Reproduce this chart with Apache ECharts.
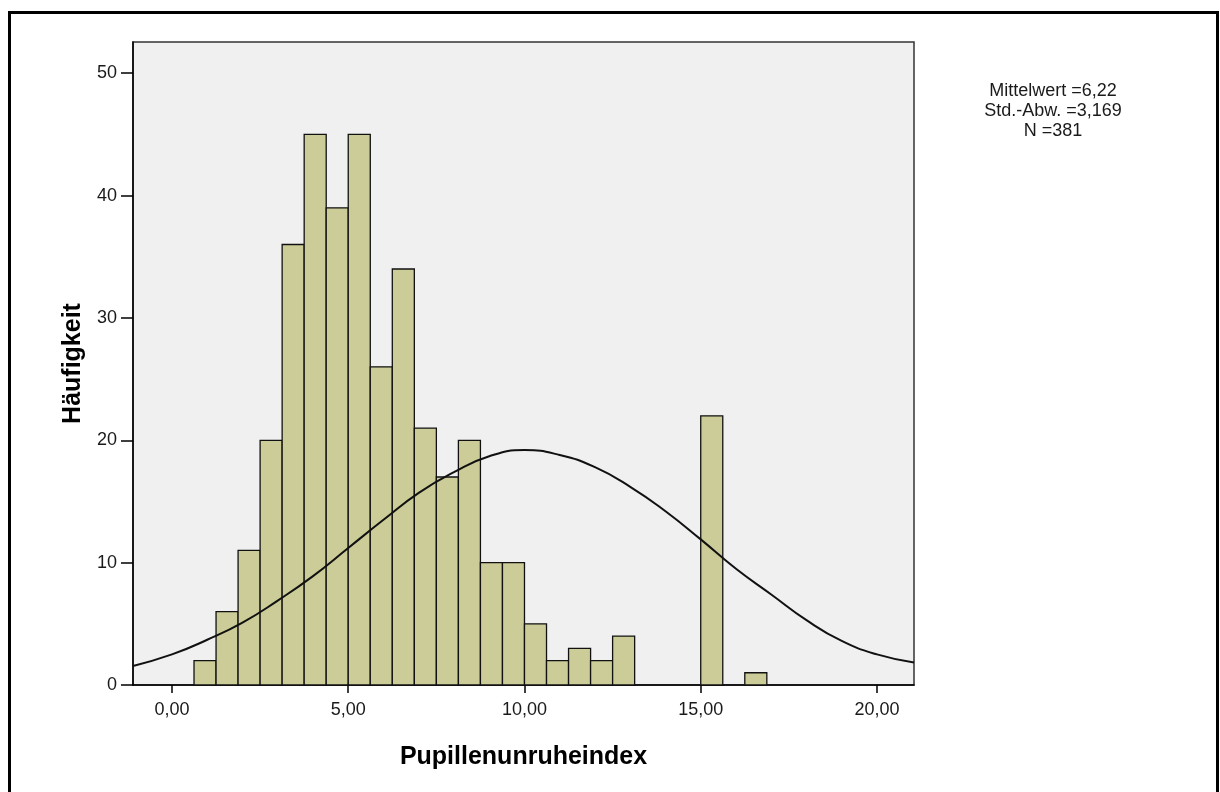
<!DOCTYPE html>
<html>
<head>
<meta charset="utf-8">
<script src="https://cdn.jsdelivr.net/npm/echarts@6/dist/echarts.min.js"></script>
<style>
  html, body { margin: 0; padding: 0; background: #ffffff; }
  #chart { width: 1220px; height: 792px; }
</style>
</head>
<body>
<div id="chart"></div>
<script>
// Histogram bins of the pupil unrest index (lower bin edge, count per bin)
const binWidth = 0.625;
const binStarts = [0.625, 1.25, 1.875, 2.5, 3.125, 3.75, 4.375, 5.0, 5.625, 6.25, 6.875,
                   7.5, 8.125, 8.75, 9.375, 10.0, 10.625, 11.25, 11.875, 12.5, 15.0, 16.25];
const binCounts = [2, 6, 11, 20, 36, 45, 39, 45, 26, 34, 21,
                   17, 20, 10, 10, 5, 2, 3, 2, 4, 22, 1];

// Normal curve overlay, sampled points (x, frequency)
const curveX = [-1.106, 0, 1, 2, 3, 4, 5, 6, 7, 8, 9, 10, 11,
                12, 13, 14, 15, 16, 17, 18, 19, 20, 21.05];
const curveY = [1.56, 2.5, 3.7, 5.1, 6.9, 8.9, 11.2, 13.5, 15.7, 17.4, 18.7, 19.2, 18.8,
                17.8, 16.2, 14.2, 11.9, 9.5, 7.4, 5.3, 3.6, 2.5, 1.84];

// Axis tick values
const xTicks = [0, 5, 10, 15, 20];
const yTicks = [0, 10, 20, 30, 40, 50];

// Summary statistics box
const statLines = ['Mittelwert =6,22', 'Std.-Abw. =3,169', 'N =381'];

const FONT = '"Liberation Sans", Arial, sans-serif';

const chart = echarts.init(document.getElementById('chart'), null, { renderer: 'canvas' });

const histData = binStarts.map((s, i) => [s, binCounts[i]]);
const curveData = curveX.map((x, i) => [x, curveY[i]]);

chart.setOption({
  animation: false,
  backgroundColor: '#ffffff',
  grid: {
    left: 133, top: 42, right: 306, bottom: 107,
    show: true,
    backgroundColor: '#f0f0f0',
    borderColor: '#333333',
    borderWidth: 1.5
  },
  xAxis: {
    type: 'value',
    min: -1.106,
    max: 21.05,
    name: 'Pupillenunruheindex',
    nameLocation: 'middle',
    nameGap: 60,
    nameTextStyle: { fontFamily: FONT, fontWeight: 'bold', fontSize: 25, color: '#000' },
    axisLine: { show: true, onZero: false, lineStyle: { color: '#000', width: 1.5 } },
    axisTick: { show: true, customValues: xTicks, length: 8, lineStyle: { color: '#000', width: 1.5 } },
    axisLabel: {
      customValues: xTicks,
      formatter: v => v.toFixed(2).replace('.', ','),
      fontFamily: FONT, fontSize: 18, color: '#1a1a1a', margin: 16
    },
    splitLine: { show: false }
  },
  yAxis: {
    type: 'value',
    min: 0,
    max: 52.55,
    name: 'Häufigkeit',
    nameLocation: 'middle',
    nameGap: 43,
    nameTextStyle: { fontFamily: FONT, fontWeight: 'bold', fontSize: 25, color: '#000' },
    axisLine: { show: true, onZero: false, lineStyle: { color: '#000', width: 1.5 } },
    axisTick: { show: true, customValues: yTicks, length: 12, lineStyle: { color: '#000', width: 1.5 } },
    axisLabel: {
      customValues: yTicks,
      fontFamily: FONT, fontSize: 18, color: '#1a1a1a', margin: 16
    },
    splitLine: { show: false }
  },
  series: [
    {
      type: 'custom',
      data: histData,
      encode: { x: 0, y: 1 },
      z: 2,
      renderItem: function (params, api) {
        const start = api.value(0);
        const count = api.value(1);
        const p0 = api.coord([start, 0]);
        const p1 = api.coord([start + binWidth, count]);
        return {
          type: 'rect',
          shape: { x: p0[0], y: p1[1], width: p1[0] - p0[0], height: p0[1] - p1[1] },
          style: { fill: '#cccc99', stroke: '#111111', lineWidth: 1.3 }
        };
      }
    },
    {
      type: 'line',
      data: curveData,
      smooth: true,
      showSymbol: false,
      z: 3,
      lineStyle: { color: '#111111', width: 2 }
    }
  ],
  graphic: [
    {
      type: 'rect',
      silent: true,
      shape: { x: 9.5, y: 12.5, width: 1208, height: 800 },
      style: { fill: null, stroke: '#000000', lineWidth: 3 }
    },
    {
      type: 'text',
      silent: true,
      x: 1053,
      y: 81,
      style: {
        text: statLines.join('\n'),
        align: 'center',
        verticalAlign: 'top',
        fontFamily: FONT,
        fontSize: 18,
        lineHeight: 20,
        fill: '#1a1a1a'
      }
    }
  ]
});
</script>
</body>
</html>
